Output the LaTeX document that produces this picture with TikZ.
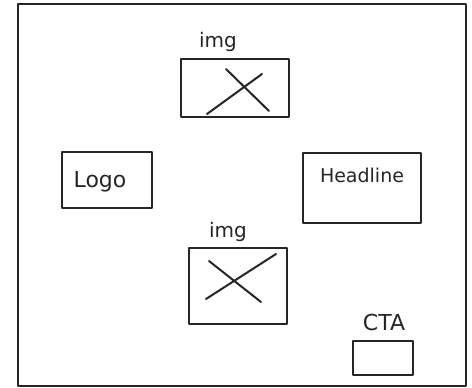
\documentclass[tikz,border=0pt]{standalone}
\usepackage{fontspec}
\setmainfont{DejaVu Sans}
\begin{document}
\begin{tikzpicture}[x=1pt,y=-1pt,
  ink/.style={draw=black!85, line width=2pt, line cap=round, line join=round},
  sketchbox/.style={ink, rectangle, inner sep=0pt},
  hand/.style={font=\fontsize{22}{22}\selectfont, text=black!85},
  lbl/.style={font=\fontsize{20}{20}\selectfont, text=black!85}]
\useasboundingbox (0,0) rectangle (472,388);
\fill[white] (0,0) rectangle (472,388);
% outer frame
\node[sketchbox, line width=2pt, minimum width=448pt, minimum height=382pt] (frame) at (242,195) {};
% top image (x 181-289, y 59-117)
\node[sketchbox, minimum width=108pt, minimum height=58pt] (img1) at (235,88) {};
\node[lbl] (img1l) at (218,42) {img};
\draw[ink] ([shift={(27,56)}]img1.north west) -- ([shift={(82,16)}]img1.north west);
\draw[ink] ([shift={(46,11)}]img1.north west) -- ([shift={(89,53)}]img1.north west);
% logo
\node[sketchbox, minimum width=90pt, minimum height=56pt] (logo) at (107,180) {};
\node[hand] (logot) at (100,182) {Logo};
% headline
\node[sketchbox, minimum width=118pt, minimum height=70pt] (head) at (362,188) {};
\node[hand, font=\fontsize{19}{19}\selectfont] (headt) at (362,175) {Headline};
% bottom image (x 189-287, y 248-324)
\node[sketchbox, minimum width=98pt, minimum height=76pt] (img2) at (238,286) {};
\node[lbl] (img2l) at (228,232) {img};
\draw[ink] ([shift={(18,52)}]img2.north west) -- ([shift={(88,7)}]img2.north west);
\draw[ink] ([shift={(21,14)}]img2.north west) -- ([shift={(73,55)}]img2.north west);
% CTA
\node[hand] (ctal) at (384,322) {CTA};
\node[sketchbox, minimum width=60pt, minimum height=34pt] (cta) at (383,358) {};
\end{tikzpicture}
\end{document}
